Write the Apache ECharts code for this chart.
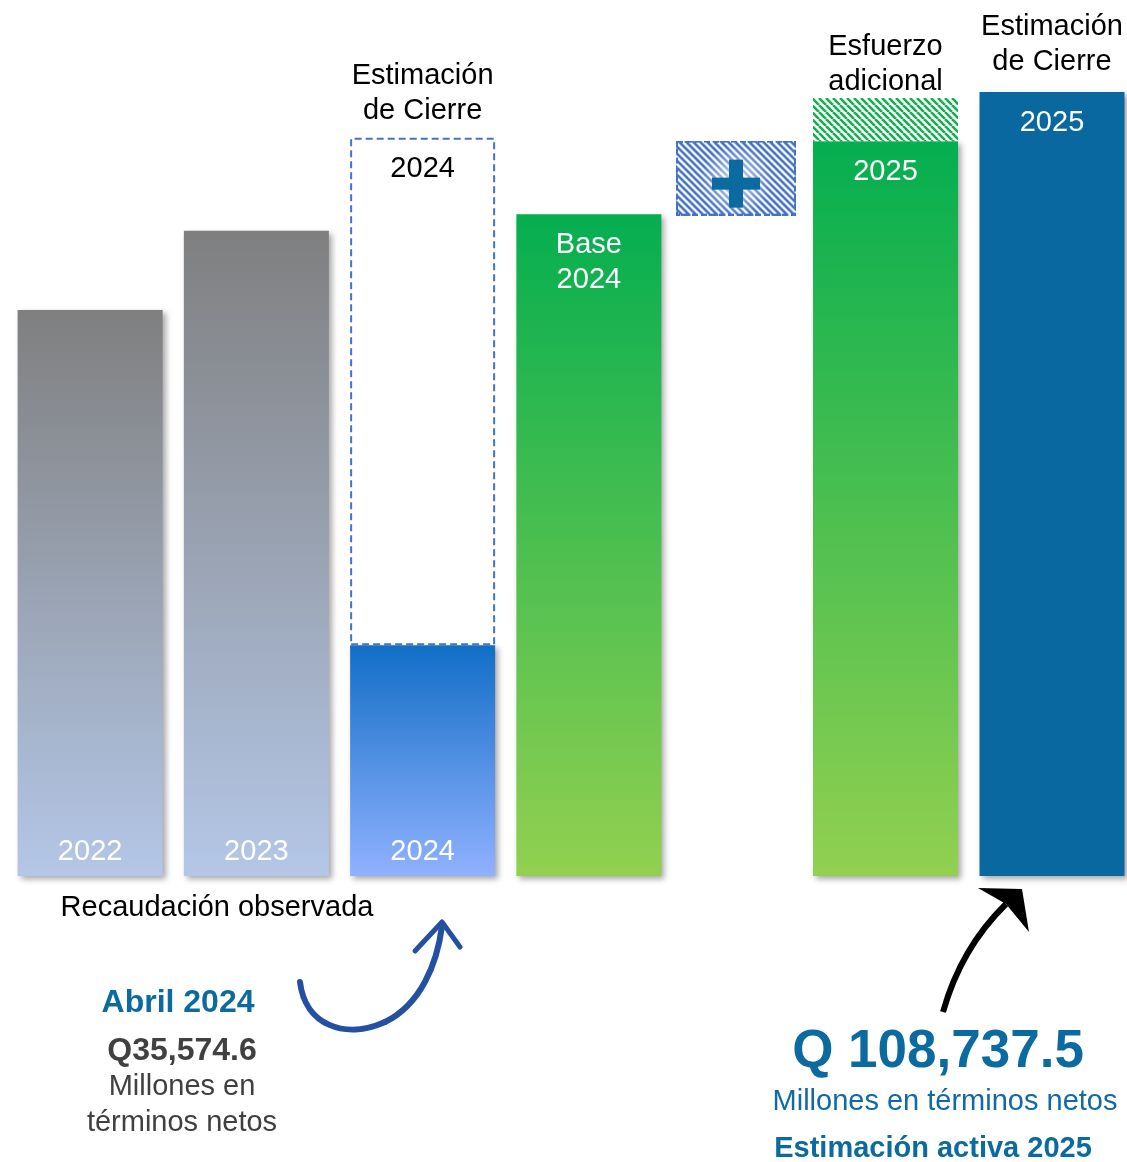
<!DOCTYPE html>
<html>
<head>
<meta charset="utf-8">
<title>Recaudación</title>
<script src="https://cdn.jsdelivr.net/npm/echarts@6/dist/echarts.min.js"></script>
<style>
  html, body { margin: 0; padding: 0; background: #fff; }
  #grafica { width: 1127px; height: 1162px; }
</style>
</head>
<body>
<div id="grafica"></div>
<script>
// datos (millones de Q)
// grupo izquierdo: recaudacion observada y base
const categoriasObs = ['2022', '2023', '2024', 'Base 2024']
const observada = [78500, 89500, 32000, '-']
const cierre2024Resto = ['-', '-', 70400, '-']
const base2024 = ['-', '-', '-', 91800]
// grupo derecho: signo +, 2025 y cierre 2025
const categoriasProy = ['+', '2025', 'Cierre 2025']
const signoMas = [96800, '-', '-']
const proyeccion2025 = ['-', 101900, '-']
const esfuerzo2025 = ['-', 6000, '-']
const estimacion2025 = ['-', '-', 108737.5]
const abril2024 = 35574.6

const fuente = "'Liberation Sans', Arial, sans-serif"
const azulTexto = '#0b6aa0'

// patron rayado
const rayado = (color) => {
  const size = 7
  const c = document.createElement('canvas')
  c.width = size
  c.height = size
  const ctx = c.getContext('2d')
  ctx.fillStyle = '#fff'
  ctx.fillRect(0, 0, size, size)
  ctx.strokeStyle = color
  ctx.lineWidth = 2.6
  ctx.beginPath()
  for (let k = -1; k <= 1; k++) {
    ctx.moveTo(k * size, 0)
    ctx.lineTo(k * size + size, size)
  }
  ctx.stroke()
  return { image: c, repeat: 'repeat' }
}

// caja rayada azul con el signo + (se usa como simbolo)
const cajaMas = () => {
  const w = 120
  const h = 75
  const c = document.createElement('canvas')
  c.width = w
  c.height = h
  const ctx = c.getContext('2d')
  ctx.fillStyle = '#fff'
  ctx.fillRect(0, 0, w, h)
  ctx.strokeStyle = '#4472c4'
  ctx.lineWidth = 2.6
  ctx.beginPath()
  for (let x = -h; x < w + h; x += 7) {
    ctx.moveTo(x, 0)
    ctx.lineTo(x + h, h)
  }
  ctx.stroke()
  const brillo = ctx.createRadialGradient(60, 40, 0, 60, 40, 36)
  brillo.addColorStop(0, 'rgba(255,255,255,0.8)')
  brillo.addColorStop(1, 'rgba(255,255,255,0)')
  ctx.fillStyle = brillo
  ctx.fillRect(0, 0, w, h)
  ctx.fillStyle = '#0b6aa0'
  ctx.fillRect(53, 19, 14, 48)
  ctx.fillRect(36, 37, 48, 12)
  ctx.setLineDash([6, 3])
  ctx.lineWidth = 2
  ctx.strokeRect(1, 1, w - 2, h - 2)
  return 'image://' + c.toDataURL()
}

const grad = (arriba, abajo) => ({
  type: 'linear',
  x: 0,
  y: 0,
  x2: 0,
  y2: 1,
  colorStops: [
    { offset: 0, color: arriba },
    { offset: 1, color: abajo }
  ]
})

const sombra = {
  shadowBlur: 6,
  shadowColor: 'rgba(0,0,0,0.35)',
  shadowOffsetX: 3,
  shadowOffsetY: 3
}

const fmt = (v) => v.toLocaleString('en-US', { minimumFractionDigits: 1, maximumFractionDigits: 1 })

const labelBlanco = (pos, dist, txt) => ({
  show: true,
  position: pos,
  distance: dist,
  color: '#fff',
  fontFamily: fuente,
  fontSize: 29,
  lineHeight: 35,
  formatter: txt
})

const texto = (x, y, t, color, font) => ({
  type: 'text',
  x: x,
  y: y,
  style: { text: t, fill: color, font: font + ' ' + fuente, textAlign: 'center', textVerticalAlign: 'middle' }
})

const chart = echarts.init(document.getElementById('grafica'))

const option = {
  backgroundColor: '#fff',
  animation: false,
  grid: [
    { left: 7, width: 665, top: 0, bottom: 286 },
    { left: 719, width: 333, top: 0, bottom: 286 }
  ],
  xAxis: [
    { type: 'category', data: categoriasObs, show: false, gridIndex: 0 },
    { type: 'category', data: categoriasProy, show: false, gridIndex: 1, boundaryGap: false }
  ],
  yAxis: [
    { type: 'value', min: 0, max: 121500, show: false, gridIndex: 0 },
    { type: 'value', min: 0, max: 121500, show: false, gridIndex: 1 }
  ],
  series: [
    {
      name: 'Recaudación observada',
      type: 'bar',
      stack: 'obs',
      barWidth: 145,
      data: observada.map((v, i) => ({
        value: v,
        itemStyle: {
          color: i < 2 ? grad('#7f7f7f', '#b4c7e7') : grad('#126ec6', '#90b1ff'),
          ...sombra
        }
      })),
      label: labelBlanco('insideBottom', 7, (p) => categoriasObs[p.dataIndex])
    },
    {
      name: 'Estimación de Cierre 2024',
      type: 'bar',
      stack: 'obs',
      data: cierre2024Resto,
      itemStyle: {
        color: '#fff',
        borderColor: '#4472c4',
        borderWidth: 2,
        borderType: [7, 4]
      },
      label: {
        show: true,
        position: 'insideTop',
        distance: 17,
        color: '#000',
        fontFamily: fuente,
        fontSize: 29,
        formatter: '2024'
      }
    },
    {
      name: 'Base 2024',
      type: 'bar',
      stack: 'obs',
      data: base2024,
      itemStyle: { color: grad('#05ae50', '#92d050'), ...sombra },
      label: labelBlanco('insideTop', 13, 'Base\n2024')
    },
    {
      name: '2025',
      type: 'bar',
      stack: 'proy',
      barWidth: 145,
      clip: false,
      xAxisIndex: 1,
      yAxisIndex: 1,
      data: proyeccion2025,
      itemStyle: { color: grad('#05ae50', '#92d050'), ...sombra },
      label: labelBlanco('insideTop', 13, '2025')
    },
    {
      name: 'Esfuerzo adicional',
      type: 'bar',
      stack: 'proy',
      clip: false,
      xAxisIndex: 1,
      yAxisIndex: 1,
      data: esfuerzo2025,
      itemStyle: { color: rayado('#12b04f') },
      label: {
        show: true,
        position: 'top',
        distance: 1,
        offset: [0, 2],
        color: '#000',
        fontFamily: fuente,
        fontSize: 29,
        lineHeight: 35,
        formatter: 'Esfuerzo\nadicional'
      }
    },
    {
      name: 'Estimación de Cierre 2025',
      type: 'bar',
      stack: 'proy',
      clip: false,
      xAxisIndex: 1,
      yAxisIndex: 1,
      data: estimacion2025,
      itemStyle: { color: '#0a68a0', ...sombra },
      label: labelBlanco('insideTop', 13, '2025')
    },
    // caja rayada con el signo +
    {
      name: 'mas',
      type: 'scatter',
      clip: false,
      xAxisIndex: 1,
      yAxisIndex: 1,
      data: signoMas,
      symbol: cajaMas(),
      symbolSize: [120, 75],
      symbolOffset: [17, 0],
      itemStyle: { opacity: 1 },
      z: 3
    },
    // titulos encima de las barras de estimacion de cierre
    {
      name: 'encabezado 2024',
      type: 'scatter',
      data: cierre2024Resto.map((v, i) => (v === '-' ? '-' : observada[i] + v)),
      symbolSize: 1,
      itemStyle: { color: 'rgba(0,0,0,0)', opacity: 1 },
      label: {
        show: true,
        position: 'top',
        distance: 9,
        color: '#000',
        fontFamily: fuente,
        fontSize: 29,
        lineHeight: 35,
        formatter: 'Estimación\nde Cierre'
      },
      z: 6
    },
    {
      name: 'encabezado 2025',
      type: 'scatter',
      clip: false,
      xAxisIndex: 1,
      yAxisIndex: 1,
      data: estimacion2025,
      symbolSize: 1,
      itemStyle: { color: 'rgba(0,0,0,0)', opacity: 1 },
      label: {
        show: true,
        position: 'top',
        distance: 12,
        color: '#000',
        fontFamily: fuente,
        fontSize: 29,
        lineHeight: 35,
        formatter: 'Estimación\nde Cierre'
      },
      z: 6
    }
  ],
  graphic: [
    texto(217, 908, 'Recaudación observada', '#000', '29px'),
    texto(178, 1003, 'Abril 2024', azulTexto, 'bold 32px'),
    texto(182, 1051, 'Q' + fmt(abril2024), '#404040', 'bold 32px'),
    texto(182, 1087, 'Millones en', '#404040', '29px'),
    texto(182, 1123, 'términos netos', '#404040', '29px'),
    texto(938, 1052, 'Q ' + fmt(estimacion2025[2]), azulTexto, 'bold 53px'),
    texto(945, 1102, 'Millones en términos netos', '#1169a6', '29px'),
    texto(933, 1149, 'Estimación activa 2025', azulTexto, 'bold 29px'),
    // flecha azul
    {
      type: 'bezierCurve',
      shape: { x1: 300, y1: 982, cpx1: 305, cpy1: 1025, cpx2: 345, cpy2: 1040, x2: 385, y2: 1022 },
      style: { fill: null, stroke: '#2350a0', lineWidth: 6, lineCap: 'round' }
    },
    {
      type: 'bezierCurve',
      shape: { x1: 385, y1: 1022, cpx1: 420, cpy1: 1005, cpx2: 437, cpy2: 965, x2: 442, y2: 926 },
      style: { fill: null, stroke: '#2350a0', lineWidth: 6, lineCap: 'round' }
    },
    {
      type: 'polyline',
      shape: { points: [[415, 951], [442, 922], [460, 947]] },
      style: { fill: null, stroke: '#2350a0', lineWidth: 5, lineCap: 'round', lineJoin: 'round' }
    },
    // flecha negra
    {
      type: 'bezierCurve',
      shape: { x1: 943, y1: 1012, cpx1: 961, cpy1: 948, x2: 1006, y2: 904 },
      style: { fill: null, stroke: '#000', lineWidth: 6 }
    },
    {
      type: 'polygon',
      shape: { points: [[978, 888], [1022, 889], [1029, 932], [1006, 904]] },
      style: { fill: '#000' }
    }
  ]
}

chart.setOption(option)
</script>
</body>
</html>
